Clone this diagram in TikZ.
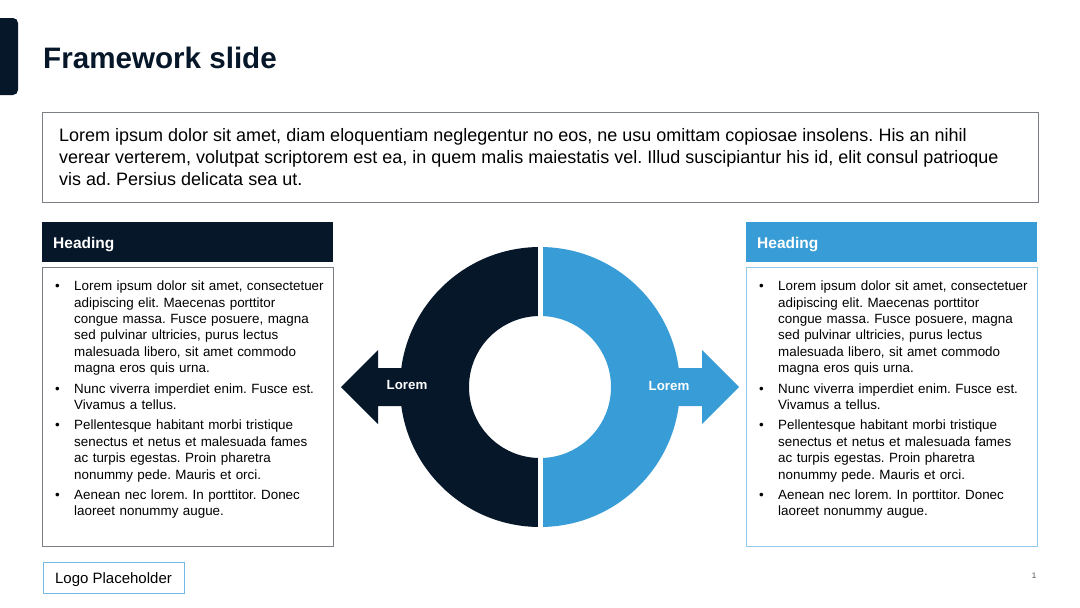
\documentclass[tikz,border=0pt]{standalone}
\usepackage{fontspec}
\setmainfont{Liberation Sans}
\usetikzlibrary{positioning,calc}
\definecolor{navy}{HTML}{061729}
\definecolor{skyblue}{HTML}{389DD6}
\definecolor{framegray}{HTML}{7A7F85}
\newcommand{\blt}[1]{\par\hangindent=19pt\hangafter=1\noindent\hbox to 19pt{\textbullet\hfil}#1\par\vspace{4pt}}
\newcommand{\bodytext}{%
  \blt{Lorem ipsum dolor sit amet, consectetuer\newline adipiscing elit. Maecenas porttitor\newline congue massa. Fusce posuere, magna\newline sed pulvinar ultricies, purus lectus\newline malesuada libero, sit amet commodo\newline magna eros quis urna.}
  \blt{Nunc viverra imperdiet enim. Fusce est.\newline Vivamus a tellus.}
  \blt{Pellentesque habitant morbi tristique\newline senectus et netus et malesuada fames\newline ac turpis egestas. Proin pharetra\newline nonummy pede. Mauris et orci.}
  \blt{Aenean nec lorem. In porttitor. Donec\newline laoreet nonummy augue.}}

\begin{document}
\frenchspacing
\begin{tikzpicture}[x=1pt,y=-1pt,
    frame/.style={draw=framegray,line width=0.8pt,anchor=north west,inner sep=0pt},
    headbox/.style={anchor=north west,minimum width=291,minimum height=40,inner xsep=11pt,
      text width=269pt,text height=14pt,text depth=2pt,align=left,text=white,
      font=\bfseries\fontsize{15.5}{17}\selectfont},
    bodybox/.style={frame,minimum width=291,minimum height=279},
    bullets/.style={anchor=north west,inner sep=0pt,text width=272pt,align=left,
      font=\fontsize{13.4}{16.4}\selectfont},
    arrowlabel/.style={text=white,font=\bfseries\fontsize{13.3}{15}\selectfont}]
  \useasboundingbox (0,0) rectangle (1080,608);

  \fill[navy,rounded corners=5pt] (-10,18) rectangle (18,95);
  \node[anchor=base west,inner sep=0pt,text=navy,font=\bfseries\fontsize{29.6}{34}\selectfont]
    (title) at (43,68) {Framework slide};

  \node[frame,minimum width=996,minimum height=90] (intro) at (42,112) {};
  \node[anchor=west,inner sep=0pt,align=left,font=\fontsize{18}{22}\selectfont]
    (introtext) at ($(intro.west)+(17,0)$)
    {Lorem ipsum dolor sit amet, diam eloquentiam neglegentur no eos, ne usu omittam copiosae insolens. His an nihil\\
     verear verterem, volutpat scriptorem est ea, in quem malis maiestatis vel. Illud suscipiantur his id, elit consul patrioque\\
     vis ad. Persius delicata sea ut.};

  % left column
  \node[headbox,fill=navy] (lhead) at (42,222) {Heading};
  \node[bodybox] (lbody) at (42,267) {};
  \node[bullets] (ltext) at ($(lbody.north west)+(13,7)$) {\bodytext};

  % right column
  \node[headbox,fill=skyblue] (rhead) at (746,222) {Heading};
  \node[bodybox,draw=skyblue!55] (rbody) at (746,267) {};
  \node[bullets] (rtext) at ($(rbody.north west)+(13,7)$) {\bodytext};

  % ring with arrows
  \coordinate (c) at (540,387);
  \fill[navy] (341,387) -- (378,350) -- (378,368) -- (440,368) -- (440,406) -- (378,406) -- (378,424) -- cycle;
  \fill[skyblue] (739,387) -- (702,350) -- (702,368) -- (640,368) -- (640,406) -- (702,406) -- (702,424) -- cycle;
  \fill[navy] ($(c)+(0,-140)$) arc[start angle=-90,end angle=-270,radius=140]
    -- ($(c)+(0,71)$) arc[start angle=-270,end angle=-90,radius=71] -- cycle;
  \fill[skyblue] ($(c)+(0,-140)$) arc[start angle=-90,end angle=90,radius=140]
    -- ($(c)+(0,71)$) arc[start angle=90,end angle=-90,radius=71] -- cycle;
  \draw[white,line width=5pt] ($(c)+(0,-145)$) -- ($(c)+(0,145)$);
  \node[arrowlabel] (lorem1) at (407,385) {Lorem};
  \node[arrowlabel] (lorem2) at (669,386) {Lorem};

  \node[draw=skyblue!70,line width=0.8pt,minimum width=141,minimum height=31,
    text height=13pt,text depth=1pt,font=\fontsize{15}{17}\selectfont]
    (logo) at (113.5,577.5) {Logo Placeholder};
  \node[text=black!70,font=\fontsize{8}{9}\selectfont] (page) at (1034,576) {1};
\end{tikzpicture}
\end{document}
